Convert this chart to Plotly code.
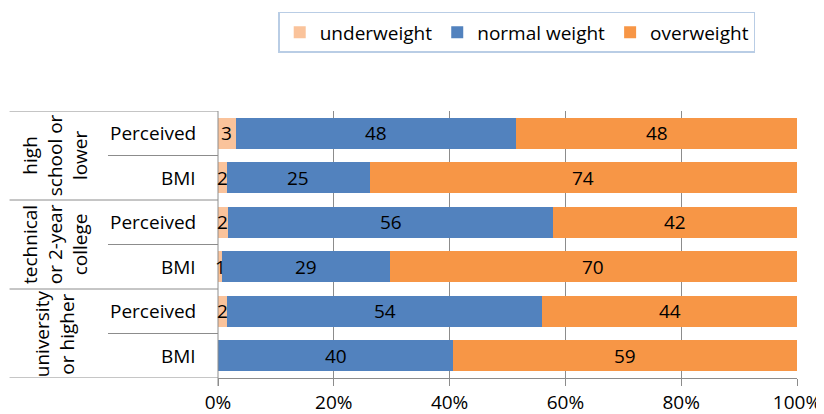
import plotly.graph_objects as go

groups = ["high<br>school or<br>lower", "technical<br>or 2-year<br>college", "university<br>or higher"]
rows = ["Perceived", "BMI", "Perceived", "BMI", "Perceived", "BMI"]
underweight = [3.1, 1.5, 1.7, 0.7, 1.6, 0.0]
normal = [48.4, 24.7, 56.2, 29.0, 54.4, 40.6]
overweight = [48.5, 73.8, 42.1, 70.3, 44.0, 59.4]
under_lbl = ["3", "2", "2", "1", "2", ""]
normal_lbl = ["48", "25", "56", "29", "54", "40"]
over_lbl = ["48", "74", "42", "70", "44", "59"]
tick_vals = [0, 20, 40, 60, 80, 100]
tick_text = ["0%", "20%", "40%", "60%", "80%", "100%"]

FONT = "Open Sans"
FS = 19
ypos = list(range(len(rows)))

fig = go.Figure()
series = [("underweight", underweight, "#FAC39B"),
          ("normal weight", normal, "#5282BE"),
          ("overweight", overweight, "#F79646")]
for name, vals, col in series:
    fig.add_trace(go.Bar(y=ypos, x=vals, name=name, orientation="h",
                         marker=dict(color=col, line=dict(width=0)),
                         hoverinfo="x+name"))

ann = []
for i in ypos:
    segs = [(underweight[i], under_lbl[i]), (normal[i], normal_lbl[i]), (overweight[i], over_lbl[i])]
    start = 0
    for v, t in segs:
        if t:
            ann.append(dict(x=start + v / 2, y=i, xref="x", yref="y", text=t, showarrow=False,
                            xanchor="center", font=dict(size=FS, color="black", family=FONT)))
        start += v
    ann.append(dict(x=-0.035, y=i, xref="paper", yref="y", text=rows[i], showarrow=False,
                    xanchor="right", font=dict(size=FS, color="black", family=FONT)))

for g, name in enumerate(groups):
    ann.append(dict(x=-0.282, y=2 * g + 0.5, xref="paper", yref="y", text=name, showarrow=False,
                    xanchor="center", yanchor="middle", textangle=-90,
                    font=dict(size=FS, color="black", family=FONT)))

shapes = []
for k in range(len(rows) + 1):
    yv = k - 0.5
    x0 = -0.36 if k % 2 == 0 else -0.19
    shapes.append(dict(type="line", xref="paper", yref="y", x0=x0, x1=0, y0=yv, y1=yv,
                       line=dict(color="#8c8c8c", width=1)))
shapes.append(dict(type="line", xref="paper", yref="paper", x0=0, x1=0, y0=-0.03, y1=1,
                   line=dict(color="#8c8c8c", width=1)))

fig.update_layout(
    barmode="stack",
    bargap=0.3,
    width=816, height=406,
    margin=dict(l=210, r=27, t=103, b=36, autoexpand=False),
    paper_bgcolor="white", plot_bgcolor="white",
    font=dict(family=FONT, size=FS, color="black"),
    showlegend=True,
    legend=dict(orientation="h", x=0.104, y=1.371, xanchor="left", yanchor="top",
                bordercolor="#B9CDE5", borderwidth=1.5, font=dict(size=FS, family=FONT),
                traceorder="normal", itemwidth=30),
    xaxis=dict(range=[0, 100], tickvals=tick_vals, ticktext=tick_text, showgrid=True,
               gridcolor="#8c8c8c", gridwidth=1, showline=True, linecolor="#8c8c8c",
               ticks="outside", ticklen=7, tickcolor="#8c8c8c", zeroline=False,
               tickfont=dict(size=FS, family=FONT)),
    yaxis=dict(range=[5.5, -0.5], showticklabels=False, showgrid=False, zeroline=False,
               showline=False),
    annotations=ann,
    shapes=shapes,
)
fig.write_html("out.html")
